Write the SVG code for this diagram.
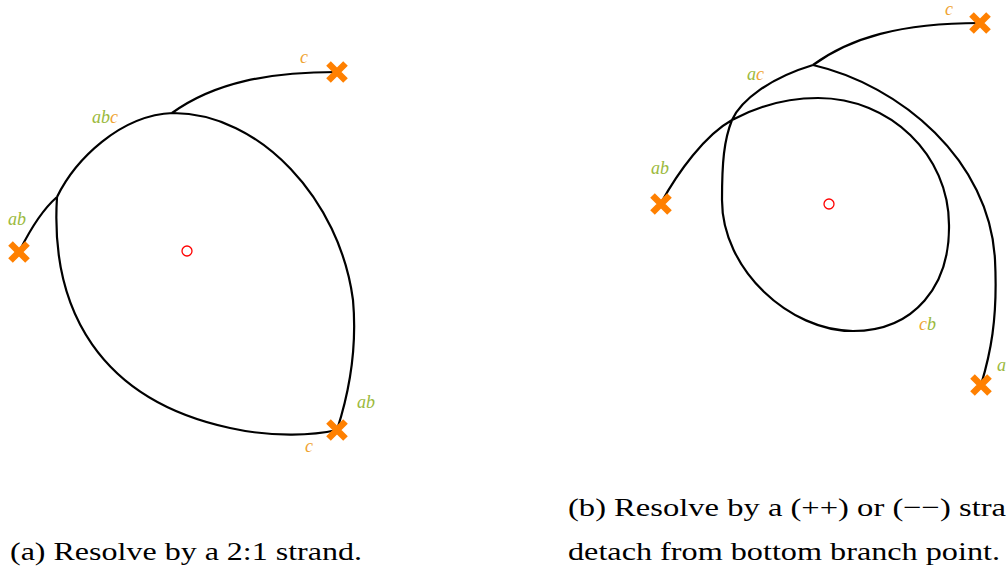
<svg xmlns="http://www.w3.org/2000/svg" xmlns:xlink="http://www.w3.org/1999/xlink" width="1008" height="571" viewBox="0 0 1008 571">
<style>
.strand{fill:none;stroke:#000;stroke-width:2.2;stroke-linejoin:round}
.lbl{font-family:"Liberation Serif","DejaVu Serif",serif;font-style:italic;font-size:18px}
.g{fill:#9ab93c}
.o{fill:#efa332}
.cap{font-family:"Liberation Serif","DejaVu Serif",serif;font-size:26px;fill:#000}
.center{fill:none;stroke:#ff0000;stroke-width:1.3}
</style>
<defs>
<path id="cross" d="M-8.5,-8.5 L8.5,8.5 M-8.5,8.5 L8.5,-8.5" fill="none" stroke="#ff8000" stroke-width="6.5"/>
</defs>
<rect width="1008" height="571" fill="#fff"/>

<!-- Panel (a) connectors -->
<g id="connectors-a">
<path class="strand" d="M20,250 C30,230 42,210 57,197"/>
<path class="strand" d="M57,197 C75,160 120,115 173,113 C260,113 340,200 353,300 C357,345 350,390 337,430"/>
<path class="strand" d="M57,197 C50,310 100,400 230,428 C275,438 315,435 337,430"/>
<path class="strand" d="M172,113 C215,82 270,72 337,72"/>
</g>
<g id="a-center"><circle class="center" cx="187" cy="251" r="5"/></g>
<g id="a-node-ab"><use href="#cross" x="19" y="252"/></g>
<g id="a-node-c"><use href="#cross" x="337" y="72"/></g>
<g id="a-node-bottom"><use href="#cross" x="337" y="430"/></g>
<g id="a-labels">
<text class="lbl g" x="8" y="225">ab</text>
<text class="lbl" x="92" y="123"><tspan class="g">ab</tspan><tspan class="o">c</tspan></text>
<text class="lbl o" x="300" y="63">c</text>
<text class="lbl g" x="357" y="408">ab</text>
<text class="lbl o" x="305" y="452">c</text>
</g>

<!-- Panel (b) connectors -->
<g id="connectors-b">
<path class="strand" d="M661,203 C678,172 705,135 732,120 C760,105 790,98 818,98 C890,98 949,155 949,225 C950,285 915,331 853,331 C790,331 722,270 722,200 C722,162 724,140 732,120 C741,100 770,78 813,65"/>
<path class="strand" d="M813,65 C850,38 900,23 980,23"/>
<path class="strand" d="M813,65 C900,85 990,160 995,260 C998,320 990,355 981,385"/>
</g>
<g id="b-center"><circle class="center" cx="829" cy="204" r="5"/></g>
<g id="b-node-ab"><use href="#cross" x="661" y="204"/></g>
<g id="b-node-c"><use href="#cross" x="980" y="23"/></g>
<g id="b-node-a"><use href="#cross" x="981" y="385"/></g>
<g id="b-labels">
<text class="lbl g" x="651" y="174">ab</text>
<text class="lbl" x="747" y="80"><tspan class="g">a</tspan><tspan class="o">c</tspan></text>
<text class="lbl o" x="945" y="15">c</text>
<text class="lbl" x="919" y="330"><tspan class="o">c</tspan><tspan class="g">b</tspan></text>
<text class="lbl g" x="997" y="371">a</text>
</g>

<!-- Captions -->
<g id="captions">
<text class="cap" x="10" y="560" textLength="352" lengthAdjust="spacingAndGlyphs">(a) Resolve by a 2:1 strand.</text>
<text class="cap" x="568" y="516" textLength="438" lengthAdjust="spacingAndGlyphs">(b) Resolve by a (++) or (−−) stra</text>
<text class="cap" x="568" y="560" textLength="432" lengthAdjust="spacingAndGlyphs">detach from bottom branch point.</text>
</g>
</svg>
